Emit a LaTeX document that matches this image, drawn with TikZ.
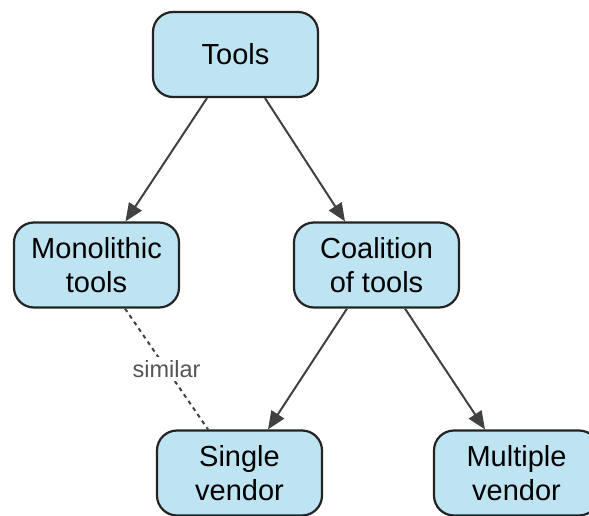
\documentclass[tikz,border=0pt]{standalone}
\usepackage{fontspec}
\setmainfont{Liberation Sans}
\usetikzlibrary{arrows.meta}
\definecolor{boxfill}{RGB}{190,228,242}
\definecolor{boxline}{RGB}{35,35,35}
\definecolor{arrowline}{RGB}{65,65,65}
\definecolor{labelgray}{RGB}{85,85,85}
\begin{document}
\begin{tikzpicture}[x=1pt,y=-1pt,
  concept/.style={draw=boxline, fill=boxfill, line width=2.2pt,
    rounded corners=20pt, minimum width=165pt, minimum height=85pt,
    inner sep=0pt, align=center, text=black,
    font=\fontsize{29}{34}\selectfont},
  link/.style={draw=arrowline, line width=2pt,
    -{Triangle[length=18pt,width=15pt]}},
  relation/.style={draw=arrowline, line width=2pt, dash pattern=on 4pt off 4pt},
  relabel/.style={fill=white, text=labelgray, inner sep=3pt,
    font=\fontsize{23.5}{26}\selectfont}]
\useasboundingbox (0,0) rectangle (589,516);
\clip (0,0) rectangle (589,516);

% concept boxes
\node[concept] (tools)  at (235.5,54.5) {Tools};
\node[concept] (mono)   at (96.5,265)   {Monolithic\\tools};
\node[concept] (coal)   at (376.5,265)  {Coalition\\of tools};
\node[concept] (single) at (239.5,473)  {Single\\vendor};
\node[concept] (multi)  at (516.5,473)  {Multiple\\vendor};

% hierarchy arrows
\draw[link] ([xshift=-28.5pt]tools.south) -- ([xshift=29pt]mono.north);
\draw[link] ([xshift=29.5pt]tools.south) -- ([xshift=-31.5pt]coal.north);
\draw[link] ([xshift=-29.5pt]coal.south) -- ([xshift=28.5pt]single.north);
\draw[link] ([xshift=28.5pt]coal.south) -- ([xshift=-31.5pt]multi.north);

% similarity relation
\draw[relation] ([xshift=28.5pt]mono.south) -- node[relabel] (sim) {similar} ([xshift=-31.5pt]single.north);
\end{tikzpicture}
\end{document}
